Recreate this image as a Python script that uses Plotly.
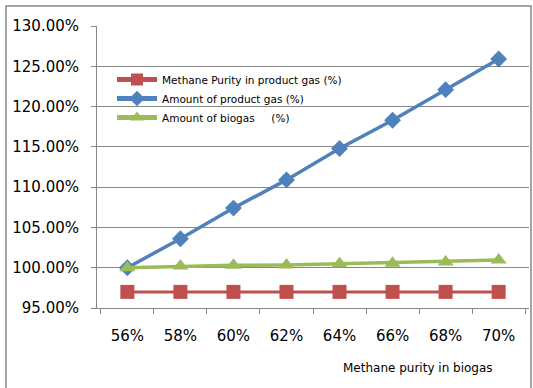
import plotly.graph_objects as go

# Methane purity of the raw biogas (x categories)
purity = ["56%", "58%", "60%", "62%", "64%", "66%", "68%", "70%"]

# Series values, in percent
methane_product = [97.0, 97.0, 97.0, 97.0, 97.0, 97.0, 97.0, 97.0]
amount_product = [100.0, 103.6, 107.4, 110.9, 114.8, 118.3, 122.1, 125.9]
amount_biogas = [100.0, 100.2, 100.3, 100.35, 100.5, 100.55, 100.7, 100.95]

y_ticks = [95, 100, 105, 110, 115, 120, 125, 130]
y_ticklabels = [f"{v:.2f}%" for v in y_ticks]

fig = go.Figure()
fig.add_trace(go.Scatter(
    x=purity, y=methane_product, mode="lines+markers",
    name="Methane Purity in product gas (%)",
    line=dict(color="#C0504D", width=3),
    marker=dict(symbol="square", size=14, color="#C0504D"),
))
fig.add_trace(go.Scatter(
    x=purity, y=amount_product, mode="lines+markers",
    name="Amount of product gas (%)",
    line=dict(color="#4F81BD", width=3.5),
    marker=dict(symbol="diamond", size=13, color="#4F81BD"),
))
fig.add_trace(go.Scatter(
    x=purity, y=amount_biogas, mode="lines+markers",
    name="Amount of biogas\u00a0\u00a0\u00a0\u00a0 (%)",
    line=dict(color="#9BBB59", width=3.5),
    marker=dict(symbol="triangle-up", size=14, color="#9BBB59"),
))

W, H = 533, 388
L, R, T, B = 97, 4, 26, 80
pw, ph = W - L - R, H - T - B

def px_x(x):
    return (x - L) / pw

def px_y(y):
    return (H - B - y) / ph

fig.update_layout(
    width=W, height=H,
    margin=dict(l=L, r=R, t=T, b=B),
    paper_bgcolor="white", plot_bgcolor="white",
    font=dict(family="DejaVu Sans", color="#000000"),
    showlegend=True,
    legend=dict(
        x=px_x(112), y=px_y(65), xanchor="left", yanchor="top",
        bgcolor="rgba(0,0,0,0)", font=dict(size=10.5, family="DejaVu Sans"),
        itemwidth=40, tracegroupgap=0, itemsizing="constant",
    ),
    xaxis=dict(
        type="category", showgrid=False, showline=True, linecolor="#868686",
        ticks="outside", tickson="boundaries", ticklen=5, tickcolor="#868686",
        tickfont=dict(size=15), ticklabelstandoff=14,
    ),
    yaxis=dict(
        range=[95, 130], tickvals=y_ticks, ticktext=y_ticklabels,
        showgrid=True, gridcolor="#868686", gridwidth=1,
        showline=True, linecolor="#868686", ticks="outside", ticklen=5,
        tickcolor="#868686", tickfont=dict(size=15), zeroline=False,
        ticklabelstandoff=9,
    ),
    annotations=[dict(
        text="Methane purity in biogas", xref="paper", yref="paper",
        x=px_x(418), y=px_y(368), xanchor="center", yanchor="middle",
        showarrow=False, font=dict(size=12, family="DejaVu Sans"),
    )],
    shapes=[dict(
        type="rect", xref="paper", yref="paper",
        x0=px_x(6), x1=px_x(531), y0=px_y(395), y1=px_y(6),
        line=dict(color="#868686", width=1.5), layer="below",
    )],
)

fig.write_html("out.html")
